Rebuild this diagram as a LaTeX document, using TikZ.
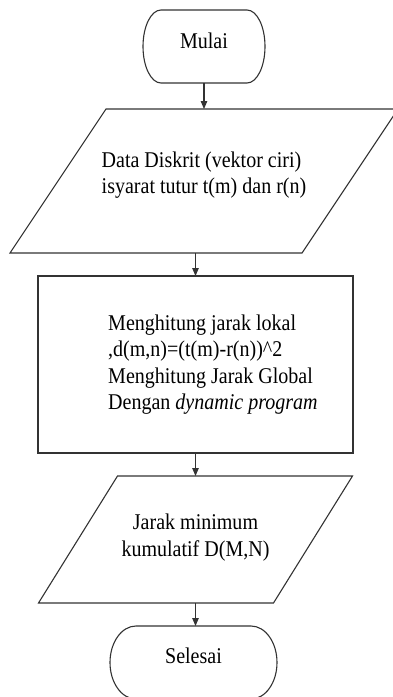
\documentclass[tikz,border=0pt]{standalone}
\usepackage{fontspec}
\setmainfont{Liberation Serif}[FakeStretch=0.89]
\usetikzlibrary{positioning, arrows.meta}
\tikzset{
  >={Triangle[length=8pt,width=6.5pt]},
  line/.style={draw=black!80, line width=1.1pt},
  flow/.style={line, ->},
  blok/.style={inner sep=0pt, outer sep=0pt},
  term/.style={blok, minimum height=73pt},
  iobox/.style={blok},
  procbox/.style={blok, line, minimum width=315pt, minimum height=177pt},
  txt/.style={font=\fontsize{22.5}{26.5}\selectfont, inner sep=0pt},
}
% outline of a start/stop box: #1 node, #2 x radius of the ends
\newcommand{\termpath}[2]{%
  \draw[line] ([xshift=#2]#1.north west) -- ([xshift=-#2]#1.north east)
    arc[start angle=90, end angle=-90, x radius=#2, y radius=36.5pt]
    -- ([xshift=#2]#1.south west)
    arc[start angle=270, end angle=90, x radius=#2, y radius=36.5pt] -- cycle;}
% outline of an input/output box: #1 node, #2 half of the slant
\newcommand{\iopath}[2]{%
  \draw[line] ([xshift=#2]#1.north west) -- ([xshift=#2]#1.north east)
    -- ([xshift=-#2]#1.south east) -- ([xshift=-#2]#1.south west) -- cycle;}

\begin{document}
\begin{tikzpicture}
  \useasboundingbox (0,0) rectangle (393pt,-697pt);

  \node[term, minimum width=122pt]                          (mulai)   at (204pt,-46.5pt) {};
  \node[iobox, minimum width=292pt, minimum height=144pt,
        below=26pt of mulai]                                (data)    {};
  \node[procbox, below=23pt of data, xshift=-8.5pt]         (hitung)  {};
  \node[iobox, minimum width=235pt, minimum height=127pt,
        below=23pt of hitung]                               (jarak)   {};
  \node[term, minimum width=167pt,
        below=23pt of jarak, xshift=-2pt]                   (selesai) {};

  \termpath{mulai}{18pt}
  \iopath{data}{48pt}
  \iopath{jarak}{39.5pt}
  \termpath{selesai}{26pt}

  % texts
  \node[txt]             (mulai-t)   at ([yshift=6pt]mulai)   {Mulai};
  \node[txt, align=left] (data-t)    at ([yshift=6pt]data)
    {Data Diskrit (vektor ciri)\\isyarat tutur t(m) dan r(n)};
  \node[txt, align=left, anchor=west] (hitung-t) at ([xshift=70pt]hitung.west)
    {Menghitung jarak lokal\\,d(m,n)=(t(m)-r(n))\textasciicircum 2\\
     Menghitung Jarak Global\\Dengan \textit{dynamic program}};
  \node[txt, align=center] (jarak-t) at ([yshift=2pt]jarak)
    {Jarak minimum\\kumulatif D(M,N)};
  \node[txt]             (selesai-t) at ([yshift=7pt]selesai) {Selesai};

  \draw[flow] (mulai) -- (data);
  \draw[flow] (data.south -| hitung.north) -- (hitung.north);
  \draw[flow] (hitung) -- (jarak);
  \draw[flow] (jarak.south) -- (jarak.south |- selesai.north);
\end{tikzpicture}
\end{document}
